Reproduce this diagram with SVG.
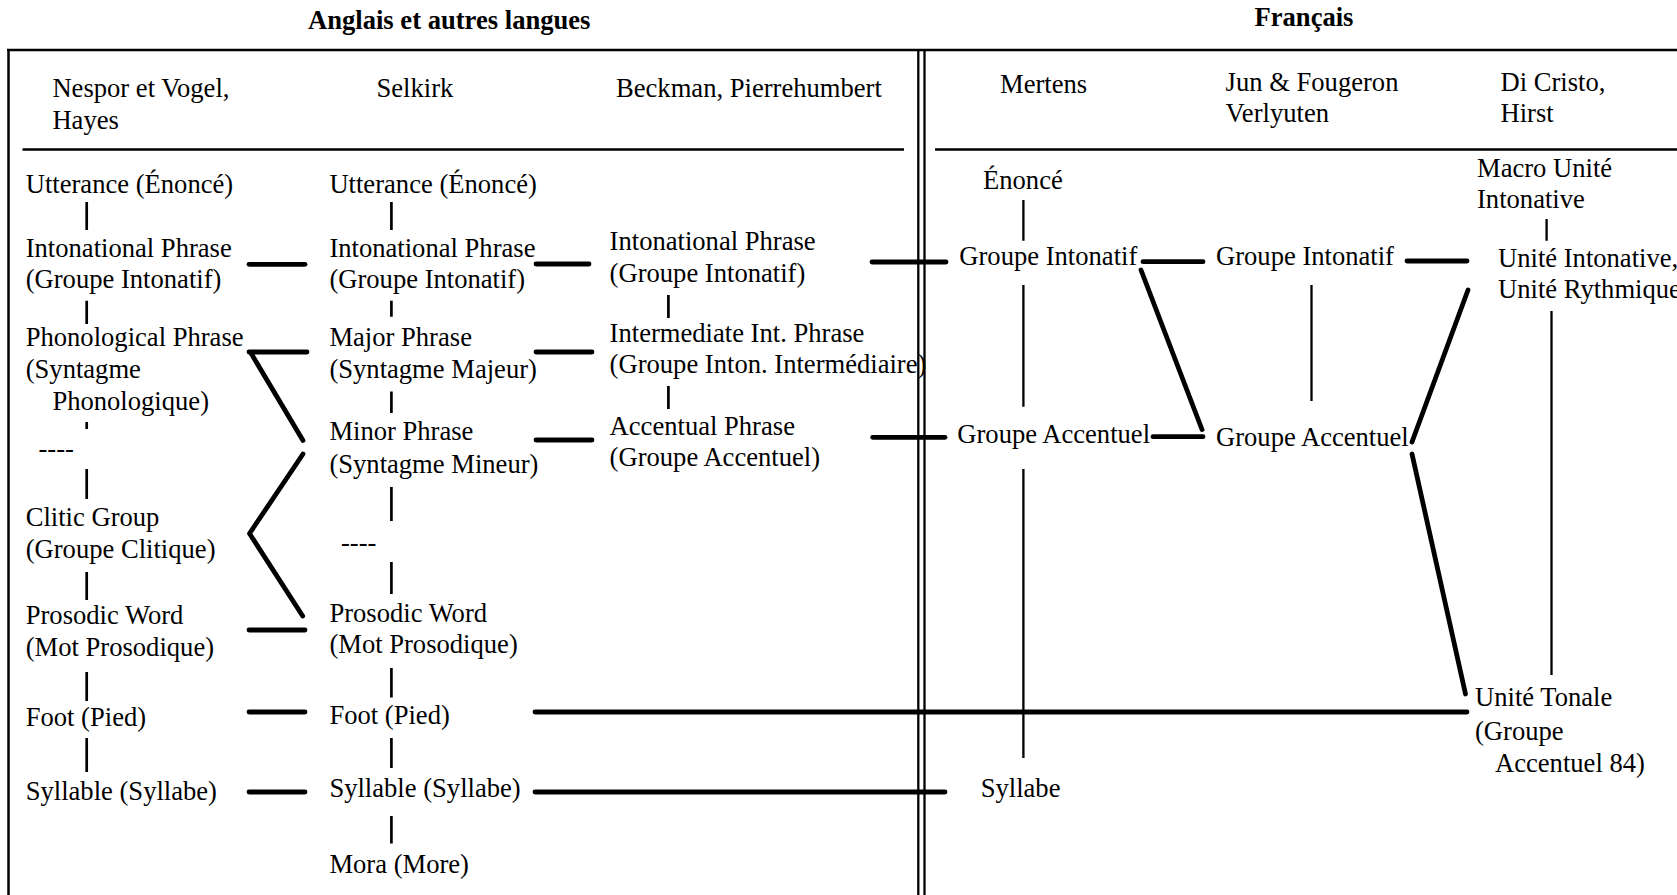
<svg xmlns="http://www.w3.org/2000/svg" width="1677" height="895" viewBox="0 0 1677 895">
<style>
text{font-family:"Liberation Serif","Times New Roman",serif;font-size:26.6px;fill:#000}
.t{font-weight:bold}
.f{stroke:#000;stroke-width:2.5;fill:none}
.v{stroke:#000;stroke-width:2.7;fill:none}
.vr{stroke:#000;stroke-width:2.3;fill:none}
.c{stroke:#000;stroke-width:4.8;stroke-linecap:round;stroke-linejoin:round;fill:none}
</style>
<rect width="1677" height="895" fill="#fff"/>
<g id="frame">
<line class="f" x1="7" y1="50" x2="1677" y2="50"/>
<line class="f" x1="8.5" y1="49" x2="8.5" y2="895"/>
<line class="vr" x1="918.3" y1="50" x2="918.3" y2="895"/>
<line class="vr" x1="924.5" y1="50" x2="924.5" y2="895"/>
<line class="f" x1="22.5" y1="149.5" x2="904" y2="149.5"/>
<line class="f" x1="935" y1="149.5" x2="1677" y2="149.5"/>
</g>
<g id="titles">
<text class="t" x="308" y="29">Anglais et autres langues</text>
<text class="t" x="1254.5" y="26">Français</text>
</g>
<g id="headers">
<text x="52.4" y="96.5">Nespor et Vogel,</text>
<text x="52.4" y="128.5">Hayes</text>
<text x="376.5" y="96.5">Selkirk</text>
<text x="616" y="96.5">Beckman, Pierrehumbert</text>
<text x="1000" y="93.4">Mertens</text>
<text x="1225.6" y="90.8">Jun &amp; Fougeron</text>
<text x="1225.6" y="121.8">Verlyuten</text>
<text x="1500.5" y="90.8">Di Cristo,</text>
<text x="1500.5" y="121.8">Hirst</text>
</g>
<g id="nv-utterance"><text x="25.7" y="192.7">Utterance (Énoncé)</text></g>
<g id="nv-intonational"><text x="25.7" y="256.7">Intonational Phrase</text><text x="25.7" y="288.3">(Groupe Intonatif)</text></g>
<g id="nv-phonological"><text x="25.7" y="346">Phonological Phrase</text><text x="25.7" y="378">(Syntagme</text><text x="52.4" y="410">Phonologique)</text></g>
<g id="nv-dash"><text x="38.5" y="457">----</text></g>
<g id="nv-clitic"><text x="25.7" y="525.7">Clitic Group</text><text x="25.7" y="557.5">(Groupe Clitique)</text></g>
<g id="nv-prosodic"><text x="25.7" y="624">Prosodic Word</text><text x="25.7" y="656">(Mot Prosodique)</text></g>
<g id="nv-foot"><text x="25.7" y="725.5">Foot (Pied)</text></g>
<g id="nv-syllable"><text x="25.7" y="800">Syllable (Syllabe)</text></g>
<g id="sk-utterance"><text x="329.4" y="192.7">Utterance (Énoncé)</text></g>
<g id="sk-intonational"><text x="329.4" y="256.7">Intonational Phrase</text><text x="329.4" y="288.3">(Groupe Intonatif)</text></g>
<g id="sk-major"><text x="329.4" y="346">Major Phrase</text><text x="329.4" y="378">(Syntagme Majeur)</text></g>
<g id="sk-minor"><text x="329.4" y="440.4">Minor Phrase</text><text x="329.4" y="472.8">(Syntagme Mineur)</text></g>
<g id="sk-dash"><text x="341" y="551">----</text></g>
<g id="sk-prosodic"><text x="329.4" y="621.5">Prosodic Word</text><text x="329.4" y="653.3">(Mot Prosodique)</text></g>
<g id="sk-foot"><text x="329.4" y="723.5">Foot (Pied)</text></g>
<g id="sk-syllable"><text x="329.4" y="797">Syllable (Syllabe)</text></g>
<g id="sk-mora"><text x="329.4" y="872.5">Mora (More)</text></g>
<g id="bp-intonational"><text x="609.6" y="250.4">Intonational Phrase</text><text x="609.6" y="282.3">(Groupe Intonatif)</text></g>
<g id="bp-intermediate"><text x="609.6" y="341.7">Intermediate Int. Phrase</text><text x="609.6" y="373.3">(Groupe Inton. Intermédiaire)</text></g>
<g id="bp-accentual"><text x="609.6" y="435">Accentual Phrase</text><text x="609.6" y="465.7">(Groupe Accentuel)</text></g>
<g id="me-enonce"><text x="983" y="189.3">Énoncé</text></g>
<g id="me-gi"><text x="959.3" y="265">Groupe Intonatif</text></g>
<g id="me-ga"><text x="957.3" y="442.7">Groupe Accentuel</text></g>
<g id="me-syllabe"><text x="980.7" y="797">Syllabe</text></g>
<g id="jf-gi"><text x="1216" y="265">Groupe Intonatif</text></g>
<g id="jf-ga"><text x="1216" y="445.6">Groupe Accentuel</text></g>
<g id="dh-macro"><text x="1477" y="176.7">Macro Unité</text><text x="1477" y="208.3">Intonative</text></g>
<g id="dh-ui"><text x="1498" y="267">Unité Intonative,</text><text x="1498" y="298">Unité Rythmique</text></g>
<g id="dh-ut"><text x="1475" y="706">Unité Tonale</text><text x="1475" y="739.5">(Groupe</text><text x="1495" y="771.7">Accentuel 84)</text></g>
<g id="connectors">
<path class="v" d="M86.7 202V230M86.7 300.8V324M86.7 422V429M86.7 469V499M86.7 572V600M86.7 672V701M86.7 738V772"/>
<path class="v" d="M391.4 202V230M391.4 300.8V316.8M391.4 391.6V413M391.4 487V521M391.4 562V594M391.4 668V697.5M391.4 738V768M391.4 816V843.6"/>
<path class="v" d="M668.4 295V318M668.4 386V409"/>
<path class="vr" d="M1023.4 200V240.7M1023.4 285V406.7M1023.4 469V758"/>
<path class="vr" d="M1311.5 285V401"/>
<path class="vr" d="M1546.6 219V240.7M1551.5 311V675"/>
<line class="c" x1="249" y1="264.3" x2="305" y2="264.3"/>
<line class="c" x1="536" y1="264" x2="589" y2="264"/>
<line class="c" x1="872" y1="262" x2="946" y2="262"/>
<line class="c" x1="1143" y1="261.7" x2="1203" y2="261.7"/>
<line class="c" x1="1407" y1="261" x2="1467" y2="261"/>
<line class="c" x1="249" y1="352" x2="307" y2="352"/>
<line class="c" x1="536" y1="352" x2="592" y2="352"/>
<line class="c" x1="251.5" y1="354" x2="303" y2="440.5"/>
<polyline class="c" points="303,454 249.5,533.5 302.7,616"/>
<line class="c" x1="249" y1="630" x2="305" y2="630"/>
<line class="c" x1="536" y1="440" x2="592" y2="440"/>
<line class="c" x1="872.7" y1="437.3" x2="945" y2="437.3"/>
<line class="c" x1="1153" y1="436.7" x2="1203" y2="436.7"/>
<line class="c" x1="1141" y1="270" x2="1202" y2="429.5"/>
<line class="c" x1="1468" y1="290" x2="1412" y2="442"/>
<line class="c" x1="1412" y1="454" x2="1465.5" y2="694"/>
<line class="c" x1="249" y1="712" x2="305" y2="712"/>
<line class="c" x1="535" y1="712" x2="1467" y2="712"/>
<line class="c" x1="249" y1="792" x2="305" y2="792"/>
<line class="c" x1="535" y1="792" x2="945" y2="792"/>
</g>
</svg>
